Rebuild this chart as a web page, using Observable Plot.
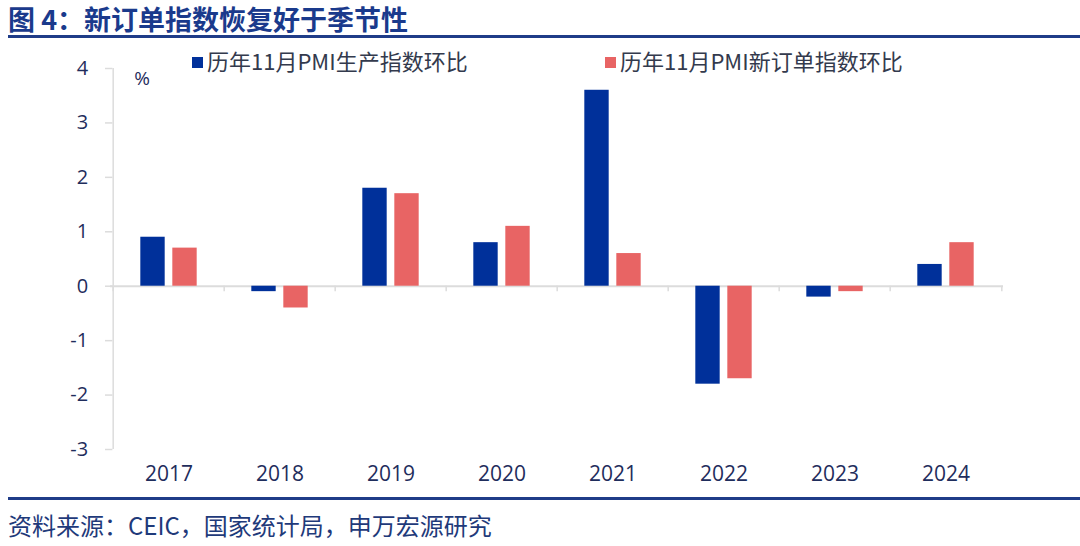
<!DOCTYPE html>
<html><head><meta charset="utf-8">
<script src="https://cdn.jsdelivr.net/npm/d3@7"></script>
<script src="https://cdn.jsdelivr.net/npm/@observablehq/plot@0.6"></script>
<style>
body{margin:0;background:#fff;font-family:"Noto Sans CJK SC","Noto Sans",sans-serif;}
#wrap{position:relative;width:1080px;height:546px;overflow:hidden;}
.abs{position:absolute;white-space:nowrap;}
#title{left:8px;top:2px;font-size:27px;font-weight:bold;color:#1a3a8c;line-height:34px;}
#topline{left:8px;top:35px;width:1072px;height:3px;background:#1f3c88;}
#botline{left:8px;top:497px;width:1072px;height:3px;background:#1f3c88;}
#source{left:8px;top:509px;font-size:24px;color:#1f3a7a;line-height:32px;}
.leg{top:46px;font-size:22px;color:#333a4d;line-height:28px;}
.sw{display:inline-block;width:11px;height:11px;margin-right:4px;vertical-align:2px;}
svg text{font-family:"Open Sans","Noto Sans",sans-serif;}
</style></head>
<body><div id="wrap">
<div id="chart"></div>
<div id="title" class="abs">图 4：新订单指数恢复好于季节性</div>
<div id="topline" class="abs"></div>
<div id="leg1" class="abs leg" style="left:192px"><span class="sw" style="background:#00309a"></span>历年11月PMI生产指数环比</div>
<div id="leg2" class="abs leg" style="left:605px"><span class="sw" style="background:#e86464"></span>历年11月PMI新订单指数环比</div>
<div id="botline" class="abs"></div>
<div id="source" class="abs">资料来源：CEIC，国家统计局，申万宏源研究</div>
</div>
<script>
const years = ["2017","2018","2019","2020","2021","2022","2023","2024"];
const production = [0.9, -0.1, 1.8, 0.8, 3.6, -1.8, -0.2, 0.4];
const newOrders = [0.7, -0.4, 1.7, 1.1, 0.6, -1.7, -0.1, 0.8];
const yTicks = [-3, -2, -1, 0, 1, 2, 3, 4];

const W = 1080, H = 546, mL = 110, mR = 77, mT = 68, mB = 97;
const bw = (W - mL - mR) / years.length;
const barW = 25, gap = 7;
const inset = (bw - barW) / 2;
const off = (barW + gap) / 2;
const textColor = "#1f2d5c";
const first = () => years[0];

const prod = years.map((y, i) => ({year: y, value: production[i]}));
const ord = years.map((y, i) => ({year: y, value: newOrders[i]}));

const chart = Plot.plot({
  width: W, height: H,
  marginLeft: mL, marginRight: mR, marginTop: mT, marginBottom: mB,
  style: {background: "transparent"},
  x: {type: "band", domain: years, padding: 0, axis: null},
  y: {domain: [-3, 4], axis: null},
  marks: [
    Plot.ruleY([0], {stroke: "#dcdcdc", strokeWidth: 2}),
    Plot.ruleX(years, {x: d => d, dx: -bw / 2, y1: 0, y2: -0.1, stroke: "#dcdcdc", strokeWidth: 1.5}),
    Plot.ruleX([years[years.length - 1]], {x: d => d, dx: bw / 2, y1: 0, y2: -0.1, stroke: "#dcdcdc", strokeWidth: 1.5}),
    Plot.ruleX([0], {x: first, dx: -bw / 2, y1: -3, y2: 4, stroke: "#dcdcdc", strokeWidth: 1.5}),
    Plot.tickY(yTicks, {y: d => d, x: first, dx: -bw / 2 - 4, inset: bw / 2 - 4, stroke: "#dcdcdc", strokeWidth: 1.5}),
    Plot.barY(prod, {x: "year", y: "value", fill: "#00309a", insetLeft: inset, insetRight: inset, dx: -off}),
    Plot.barY(ord, {x: "year", y: "value", fill: "#e86464", insetLeft: inset, insetRight: inset, dx: off}),
    Plot.text(yTicks, {y: d => d, x: first, dx: -bw / 2 - 25, text: d => String(d), textAnchor: "end", fontSize: 20, fill: textColor}),
    Plot.text(years, {x: d => d, y: () => -3, dy: 25, text: d => d, fontSize: 21, fill: textColor}),
    Plot.text(["%"], {x: first, y: () => 4, dx: -bw / 2 + 29, dy: 10, text: d => d, fontSize: 19, fill: textColor})
  ]
});
document.getElementById("chart").appendChild(chart);
</script>
</body></html>
